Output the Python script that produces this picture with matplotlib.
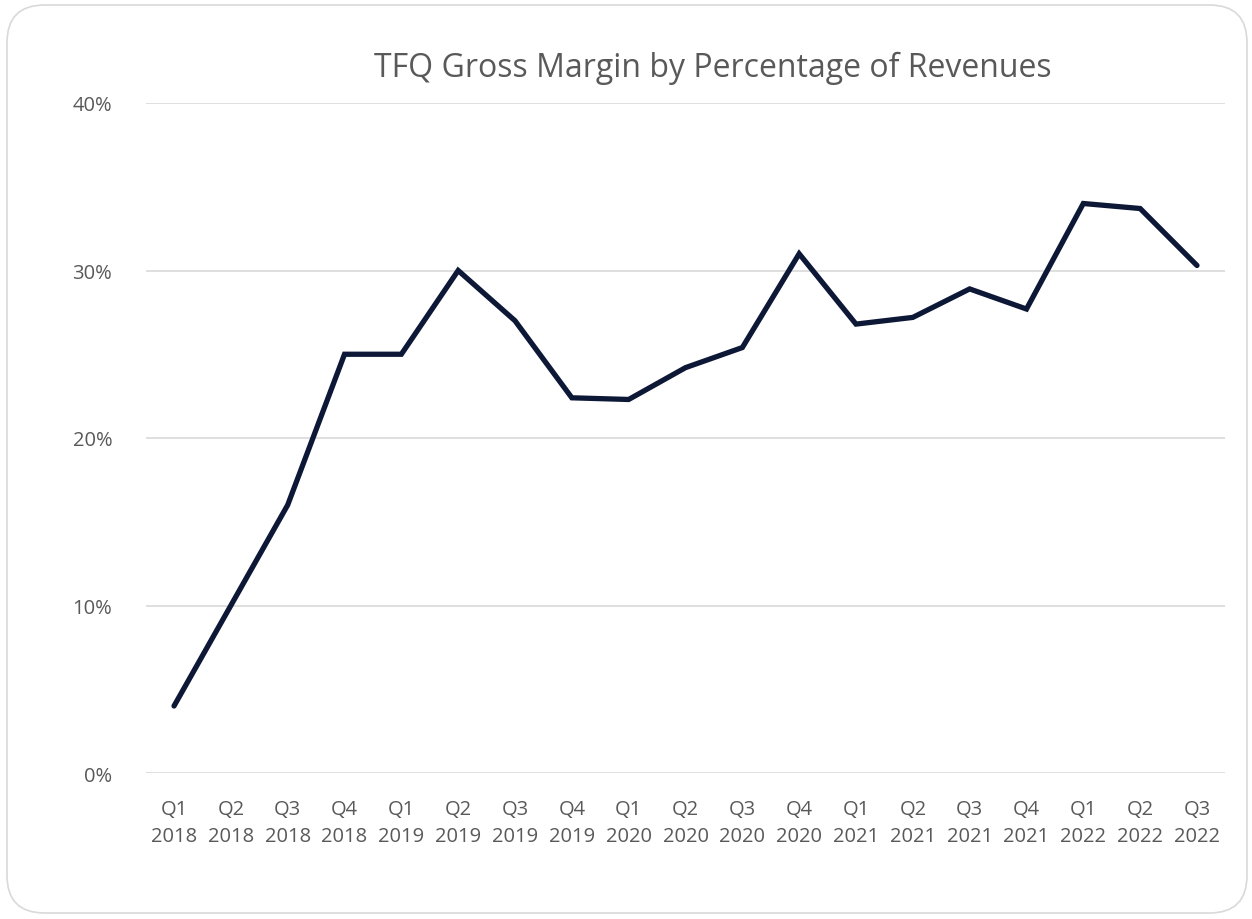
import matplotlib
matplotlib.use("Agg")
import matplotlib.pyplot as plt
from matplotlib.patches import FancyBboxPatch
from matplotlib.ticker import FuncFormatter

quarters = ["Q1\n2018", "Q2\n2018", "Q3\n2018", "Q4\n2018",
            "Q1\n2019", "Q2\n2019", "Q3\n2019", "Q4\n2019",
            "Q1\n2020", "Q2\n2020", "Q3\n2020", "Q4\n2020",
            "Q1\n2021", "Q2\n2021", "Q3\n2021", "Q4\n2021",
            "Q1\n2022", "Q2\n2022", "Q3\n2022"]
margin = [0.04, 0.10, 0.16, 0.25,
          0.25, 0.30, 0.27, 0.224,
          0.223, 0.242, 0.254, 0.31,
          0.268, 0.272, 0.289, 0.277,
          0.34, 0.337, 0.303]
yticks = [0.0, 0.1, 0.2, 0.3, 0.4]

plt.rcParams['font.family'] = ['Open Sans', 'DejaVu Sans']

W, H = 1252, 920
fig = plt.figure(figsize=(W / 100, H / 100), dpi=100)
fig.patch.set_facecolor("white")

box = FancyBboxPatch((7 / W, 6 / H), 1 - 12 / W, 1 - 12 / H,
                     boxstyle="round,pad=0,rounding_size=0.03",
                     transform=fig.transFigure, facecolor="none",
                     edgecolor="#d9d9d9", linewidth=1.2, zorder=-5,
                     mutation_aspect=W / H)
fig.patches.append(box)

ax = fig.add_axes([145.6 / W, 1 - 774 / H, (1225.4 - 145.6) / W, (774 - 104) / H])
ax.set_facecolor("none")
x = list(range(len(quarters)))
ax.plot(x, margin, color="#0d1736", linewidth=3.8, solid_joinstyle="miter",
        solid_capstyle="round", zorder=3)

ax.set_xlim(-0.5, len(quarters) - 0.5)
ax.set_ylim(0, 0.4)
ax.set_yticks(yticks)
ax.yaxis.set_major_formatter(FuncFormatter(lambda v, p: f"{v * 100:.0f}%"))
ax.set_xticks(x)
ax.set_xticklabels(quarters, linespacing=1.45)
ax.grid(axis="y", color="#d9d9d9", linewidth=1.2)
ax.set_axisbelow(True)
for s in ax.spines.values():
    s.set_visible(False)
ax.tick_params(axis="both", length=0, labelsize=14.5, colors="#595959")
ax.tick_params(axis="y", pad=24)
ax.tick_params(axis="x", pad=19)

fig.text(713 / W, 1 - 68 / H, "TFQ Gross Margin by Percentage of Revenues",
         ha="center", va="center", fontsize=23, color="#595959")

fig.savefig("out.png", dpi=100)
